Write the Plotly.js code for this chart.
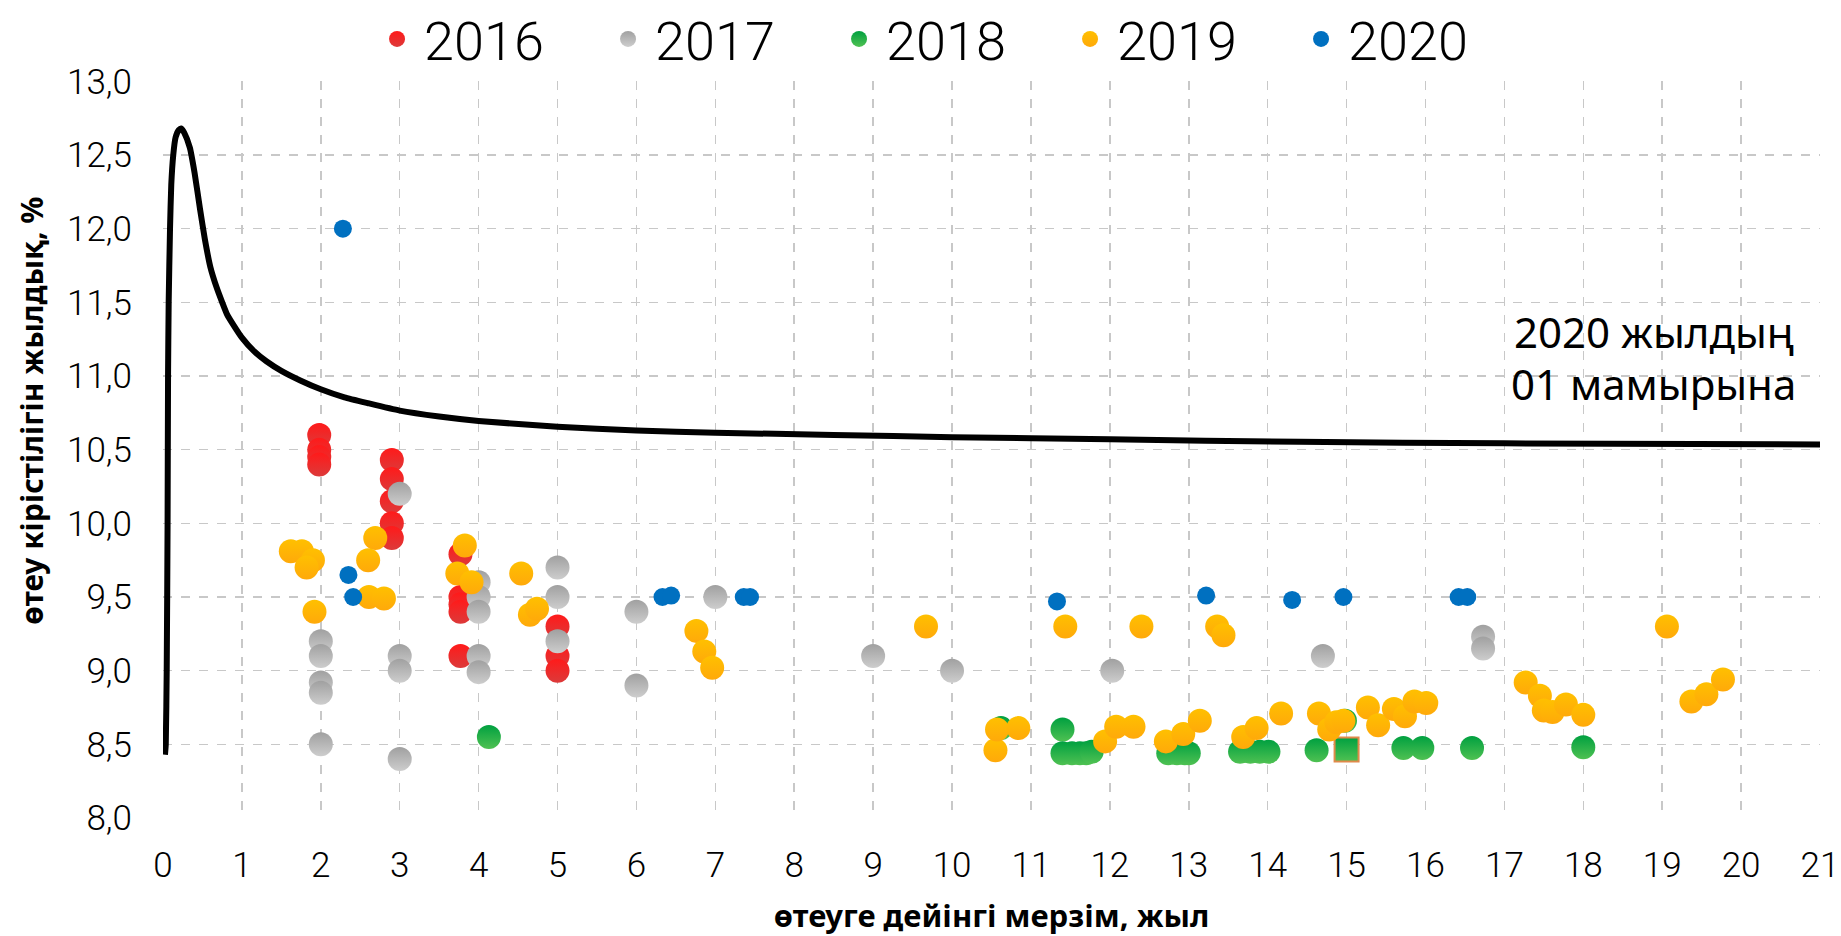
<!DOCTYPE html>
<html>
<head>
<meta charset="utf-8">
<script src="https://cdn.plot.ly/plotly-3.0.1.min.js"></script>
<style>html,body{margin:0;padding:0;background:#fff;}</style>
</head>
<body>
<div id="chart" style="width:1841px;height:936px;"></div>
<script>
// ---- data ----
const seriesNames = ['2016', '2017', '2018', '2019', '2020'];

const x2016 = [1.98, 1.98, 1.98, 1.98, 2.90, 2.90, 2.90, 2.90, 2.90, 3.77, 3.77, 3.77, 3.77, 3.77, 5.00, 5.00, 5.00];
const y2016 = [10.60, 10.50, 10.45, 10.40, 10.43, 10.30, 10.15, 10.00, 9.90, 9.79, 9.50, 9.45, 9.40, 9.10, 9.30, 9.10, 9.00];

const x2017 = [2.00, 2.00, 2.00, 2.00, 2.00, 3.00, 3.00, 3.00, 3.00, 4.00, 4.00, 4.00, 4.00, 4.00, 5.00, 5.00, 5.00, 6.00, 6.00, 7.00, 9.00, 10.00, 12.03, 14.70, 16.73, 16.73];
const y2017 = [9.20, 9.10, 8.92, 8.85, 8.50, 10.20, 9.10, 9.00, 8.40, 9.60, 9.50, 9.40, 9.10, 8.99, 9.70, 9.50, 9.20, 9.40, 8.90, 9.50, 9.10, 9.00, 9.00, 9.10, 9.23, 9.15];

const x2018 = [4.13, 10.62, 11.40, 11.40, 11.52, 11.62, 11.70, 11.77, 12.74, 12.85, 12.95, 13.00, 13.65, 13.78, 13.90, 14.01, 14.62, 14.98, 15.00, 15.72, 15.96, 16.59, 18.00];
const y2018 = [8.55, 8.61, 8.60, 8.44, 8.44, 8.44, 8.44, 8.45, 8.44, 8.44, 8.44, 8.44, 8.45, 8.45, 8.45, 8.45, 8.46, 8.66, 8.465, 8.475, 8.475, 8.475, 8.48];
const sym2018 = ['circle','circle','circle','circle','circle','circle','circle','circle','circle','circle','circle','circle','circle','circle','circle','circle','circle','circle','square','circle','circle','circle','circle'];

const x2019 = [1.62, 1.76, 1.90, 1.82, 1.92, 2.69, 2.60, 2.61, 2.80, 3.825, 3.73, 3.91, 4.54, 4.65, 4.74, 6.76, 6.86, 6.96, 9.67, 10.55, 10.57, 10.84, 11.435, 12.40, 13.36, 13.44, 11.94, 12.08, 12.30, 12.71, 12.93, 13.14, 13.69, 13.86, 14.17, 14.65, 14.78, 14.87, 14.96, 15.27, 15.40, 15.60, 15.74, 15.86, 16.01, 17.27, 17.45, 17.50, 17.61, 17.78, 18.00, 19.06, 19.37, 19.56, 19.77];
const y2019 = [9.81, 9.81, 9.75, 9.70, 9.40, 9.90, 9.75, 9.50, 9.49, 9.85, 9.66, 9.60, 9.66, 9.38, 9.42, 9.27, 9.13, 9.02, 9.30, 8.46, 8.60, 8.61, 9.30, 9.30, 9.30, 9.24, 8.52, 8.62, 8.62, 8.52, 8.57, 8.66, 8.55, 8.61, 8.71, 8.71, 8.60, 8.65, 8.66, 8.75, 8.63, 8.74, 8.69, 8.79, 8.78, 8.92, 8.83, 8.73, 8.72, 8.77, 8.70, 9.30, 8.79, 8.84, 8.94];

const x2020 = [2.28, 2.35, 2.41, 6.33, 6.44, 7.36, 7.44, 11.33, 13.22, 14.31, 14.96, 16.42, 16.53];
const y2020 = [12.00, 9.65, 9.50, 9.50, 9.51, 9.50, 9.50, 9.47, 9.51, 9.48, 9.50, 9.50, 9.50];

// yield curve as of 01 May 2020
const curveX = [0.025, 0.035, 0.047, 0.058, 0.064, 0.072, 0.089, 0.105, 0.13, 0.16, 0.20, 0.23, 0.27, 0.34, 0.40, 0.47, 0.53, 0.60, 0.68, 0.75, 0.81, 0.90, 1.00, 1.15, 1.31, 1.50, 1.74, 2.00, 2.30, 2.60, 3.00, 3.50, 4.00, 5.00, 6.00, 7.00, 8.50, 10.00, 12.00, 14.40, 17.00, 21.00];
const curveY = [8.43, 8.50, 9.00, 10.00, 11.00, 11.50, 12.00, 12.30, 12.50, 12.62, 12.67, 12.68, 12.65, 12.55, 12.38, 12.13, 11.93, 11.74, 11.60, 11.50, 11.42, 11.34, 11.26, 11.17, 11.10, 11.035, 10.97, 10.91, 10.855, 10.815, 10.765, 10.725, 10.695, 10.655, 10.63, 10.615, 10.60, 10.585, 10.57, 10.553, 10.543, 10.535];

const noteLines = ['2020 жылдың', '01 мамырына'];
const xTitle = 'өтеуге дейінгі мерзім, жыл';
const yTitle = 'өтеу кірістілігін жылдық, %';

// ---- styling ----
const thin = {family: 'Roboto, "Open Sans", sans-serif', weight: 300, color: '#000'};
const boldF = {family: '"Noto Sans", "Open Sans", sans-serif', weight: 700, color: '#000'};

function pts(name, xs, ys, color, grad, size, extra) {
  const t = {
    type: 'scatter', mode: 'markers', name: name, x: xs, y: ys,
    marker: {size: size, color: color, line: {width: 0}},
    hoverinfo: 'x+y+name'
  };
  if (grad) t.marker.gradient = {type: 'vertical', color: grad};
  if (extra) Object.assign(t.marker, extra);
  return t;
}

const traces = [
  {type: 'scatter', mode: 'lines', x: curveX, y: curveY, showlegend: false,
   line: {color: '#000', width: 6, shape: 'spline', smoothing: 0.5}, hoverinfo: 'skip'},
  pts(seriesNames[0], x2016, y2016, '#ff1a1a', '#dc3a3a', 24),
  pts(seriesNames[1], x2017, y2017, '#a0a0a0', '#cdcdcd', 24),
  pts(seriesNames[2], x2018, y2018, '#00a040', '#4fc152', 24,
      {symbol: sym2018,
       line: {width: sym2018.map(s => s === 'square' ? 2 : 0), color: sym2018.map(s => s === 'square' ? '#e08a4a' : 'rgba(0,0,0,0)')}}),
  pts(seriesNames[3], x2019, y2019, '#ffc000', '#ffa90a', 24),
  pts(seriesNames[4], x2020, y2020, '#0070c0', null, 18)
];

const layout = {
  width: 1841, height: 936,
  paper_bgcolor: '#fff', plot_bgcolor: '#fff',
  separators: ', ',
  margin: {l: 163, r: 21, t: 81, b: 118, pad: 0},
  showlegend: true,
  legend: {
    orientation: 'h', xref: 'container', yref: 'container',
    x: 0.201, xanchor: 'left', y: 0.958, yanchor: 'middle',
    font: Object.assign({}, thin, {size: 54}),
    itemsizing: 'trace', itemwidth: 44, entrywidth: 172, traceorder: 'normal'
  },
  xaxis: {
    range: [0, 21], dtick: 1, tick0: 0, showgrid: true,
    gridcolor: '#c8c8c8', gridwidth: 1.5, griddash: 'dash',
    zeroline: false, showline: false, ticks: '',
    ticklabelstandoff: 23,
    tickfont: Object.assign({}, thin, {size: 35}),
    title: {text: xTitle, font: Object.assign({}, boldF, {size: 31}), standoff: 22}
  },
  yaxis: {
    range: [8, 13], dtick: 0.5, tick0: 8, tickformat: '.1f', showgrid: true,
    gridcolor: '#c8c8c8', gridwidth: 1.5, griddash: 'dash',
    zeroline: false, showline: false, ticks: '',
    ticklabelstandoff: 30,
    tickfont: Object.assign({}, thin, {size: 35})
  },
  annotations: [
    {xref: 'paper', yref: 'paper', x: -0.079, y: 0.553, text: yTitle, textangle: -90, showarrow: false,
     xanchor: 'center', yanchor: 'middle', font: Object.assign({}, boldF, {size: 30})},
    {xref: 'x', yref: 'y', x: 18.89, y: 11.30, text: noteLines[0], showarrow: false,
     xanchor: 'center', yanchor: 'middle', font: {family: '"Noto Sans", sans-serif', size: 42, color: '#000'}},
    {xref: 'x', yref: 'y', x: 18.89, y: 10.95, text: noteLines[1], showarrow: false,
     xanchor: 'center', yanchor: 'middle', font: {family: '"Noto Sans", sans-serif', size: 42, color: '#000'}}
  ]
};

Plotly.newPlot('chart', traces, layout, {displayModeBar: false, staticPlot: true});
</script>
</body>
</html>
